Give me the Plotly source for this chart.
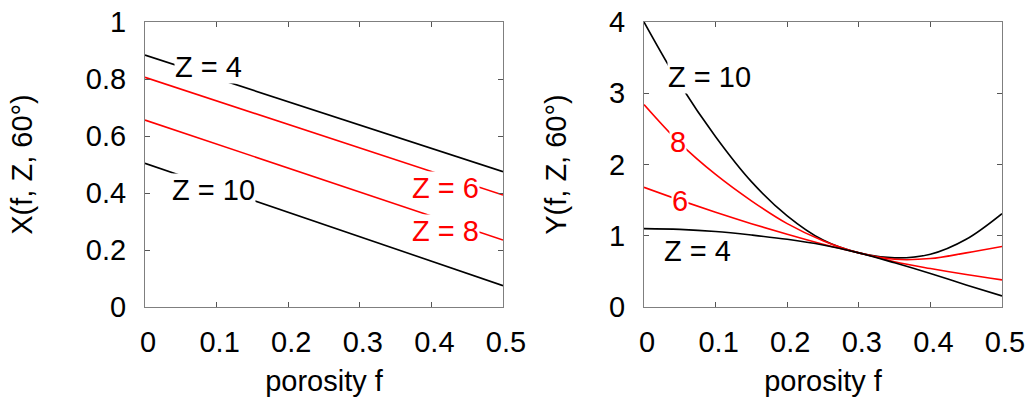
import plotly.graph_objects as go

# ---- data ----
f_lin = [0.0, 0.5]
X_Z4 = [0.884, 0.475]
X_Z6 = [0.806, 0.393]
X_Z8 = [0.656, 0.235]
X_Z10 = [0.504, 0.075]

f_grid = [0.0, 0.05, 0.1, 0.15, 0.2, 0.25, 0.3, 0.35, 0.4, 0.45, 0.5]
Y_Z10 = [4.0, 3.13, 2.39, 1.76, 1.28, 0.94, 0.76, 0.69, 0.74, 0.95, 1.31]
Y_Z8 = [2.84, 2.30, 1.86, 1.49, 1.17, 0.93, 0.76, 0.67, 0.68, 0.76, 0.85]
Y_Z6 = [1.68, 1.50, 1.33, 1.17, 1.02, 0.88, 0.76, 0.635, 0.54, 0.455, 0.38]
Y_Z4 = [1.10, 1.09, 1.06, 1.01, 0.95, 0.87, 0.76, 0.62, 0.47, 0.31, 0.155]

x_ticks = [0, 0.1, 0.2, 0.3, 0.4, 0.5]
x_ticklabels = ["0", "0.1", "0.2", "0.3", "0.4", "0.5"]
yl_ticks = [0, 0.2, 0.4, 0.6, 0.8, 1]
yl_ticklabels = ["0", "0.2", "0.4", "0.6", "0.8", "1"]
yr_ticks = [0, 1, 2, 3, 4]
yr_ticklabels = ["0", "1", "2", "3", "4"]

left_labels = [("Z = 4", 0.089, 0.841, "black"), ("Z = 10", 0.095, 0.41, "black"),
               ("Z = 6", 0.42, 0.416, "red"), ("Z = 8", 0.42, 0.268, "red")]
right_labels = [("Z = 10", 0.091, 3.23, "black"), ("8", 0.048, 2.31, "red"),
                ("6", 0.05, 1.49, "red"), ("Z = 4", 0.075, 0.79, "black")]

FONT = "Liberation Sans, Arial, sans-serif"
FS = 29
LW = 1.6

fig = go.Figure()
for ys, col in [(X_Z4, "black"), (X_Z6, "red"), (X_Z8, "red"), (X_Z10, "black")]:
    fig.add_trace(go.Scatter(x=f_lin, y=ys, mode="lines", line=dict(color=col, width=LW),
                             xaxis="x", yaxis="y", showlegend=False))
for ys, col in [(Y_Z10, "black"), (Y_Z8, "red"), (Y_Z6, "red"), (Y_Z4, "black")]:
    fig.add_trace(go.Scatter(x=f_grid, y=ys, mode="lines", line=dict(color=col, width=LW, shape="spline"),
                             xaxis="x2", yaxis="y2", showlegend=False))

ax_common = dict(showline=True, linecolor="#7f7f7f", linewidth=1, mirror="ticks", ticks="inside",
                 ticklen=5, tickcolor="#555555", showgrid=False, zeroline=False, automargin=False,
                 tickfont=dict(family=FONT, size=FS, color="black"),
                 title_font=dict(family=FONT, size=FS, color="black"))

ydom = [1 - 307 / 401, 1 - 22 / 401]
fig.update_layout(
    width=1029, height=401, margin=dict(l=0, r=0, t=0, b=0),
    paper_bgcolor="white", plot_bgcolor="white",
    xaxis=dict(ax_common, domain=[145 / 1029, 503 / 1029], range=[0, 0.5], tickvals=x_ticks,
               ticktext=x_ticklabels, anchor="y", title=dict(text="porosity f", standoff=13),
               ticklabelstandoff=9, ticklabelshift=3),
    yaxis=dict(ax_common, domain=ydom, range=[0, 1], tickvals=yl_ticks, ticktext=yl_ticklabels,
               anchor="x", title=dict(text="X(f, Z, 60°)", standoff=44), ticklabelstandoff=12),
    xaxis2=dict(ax_common, domain=[644 / 1029, 1002 / 1029], range=[0, 0.5], tickvals=x_ticks,
                ticktext=x_ticklabels, anchor="y2", title=dict(text="porosity f", standoff=13),
                ticklabelstandoff=9, ticklabelshift=3),
    yaxis2=dict(ax_common, domain=ydom, range=[0, 4], tickvals=yr_ticks, ticktext=yr_ticklabels,
                anchor="x2", title=dict(text="Y(f, Z, 60°)", standoff=33), ticklabelstandoff=12),
)

for txt, x, y, col in left_labels:
    fig.add_annotation(x=x, y=y, xref="x", yref="y", text=txt, showarrow=False,
                       font=dict(family=FONT, size=FS, color=col), bgcolor="white", borderpad=0)
for txt, x, y, col in right_labels:
    fig.add_annotation(x=x, y=y, xref="x2", yref="y2", text=txt, showarrow=False,
                       font=dict(family=FONT, size=FS, color=col), bgcolor="white", borderpad=0)

fig.write_html("out.html")
